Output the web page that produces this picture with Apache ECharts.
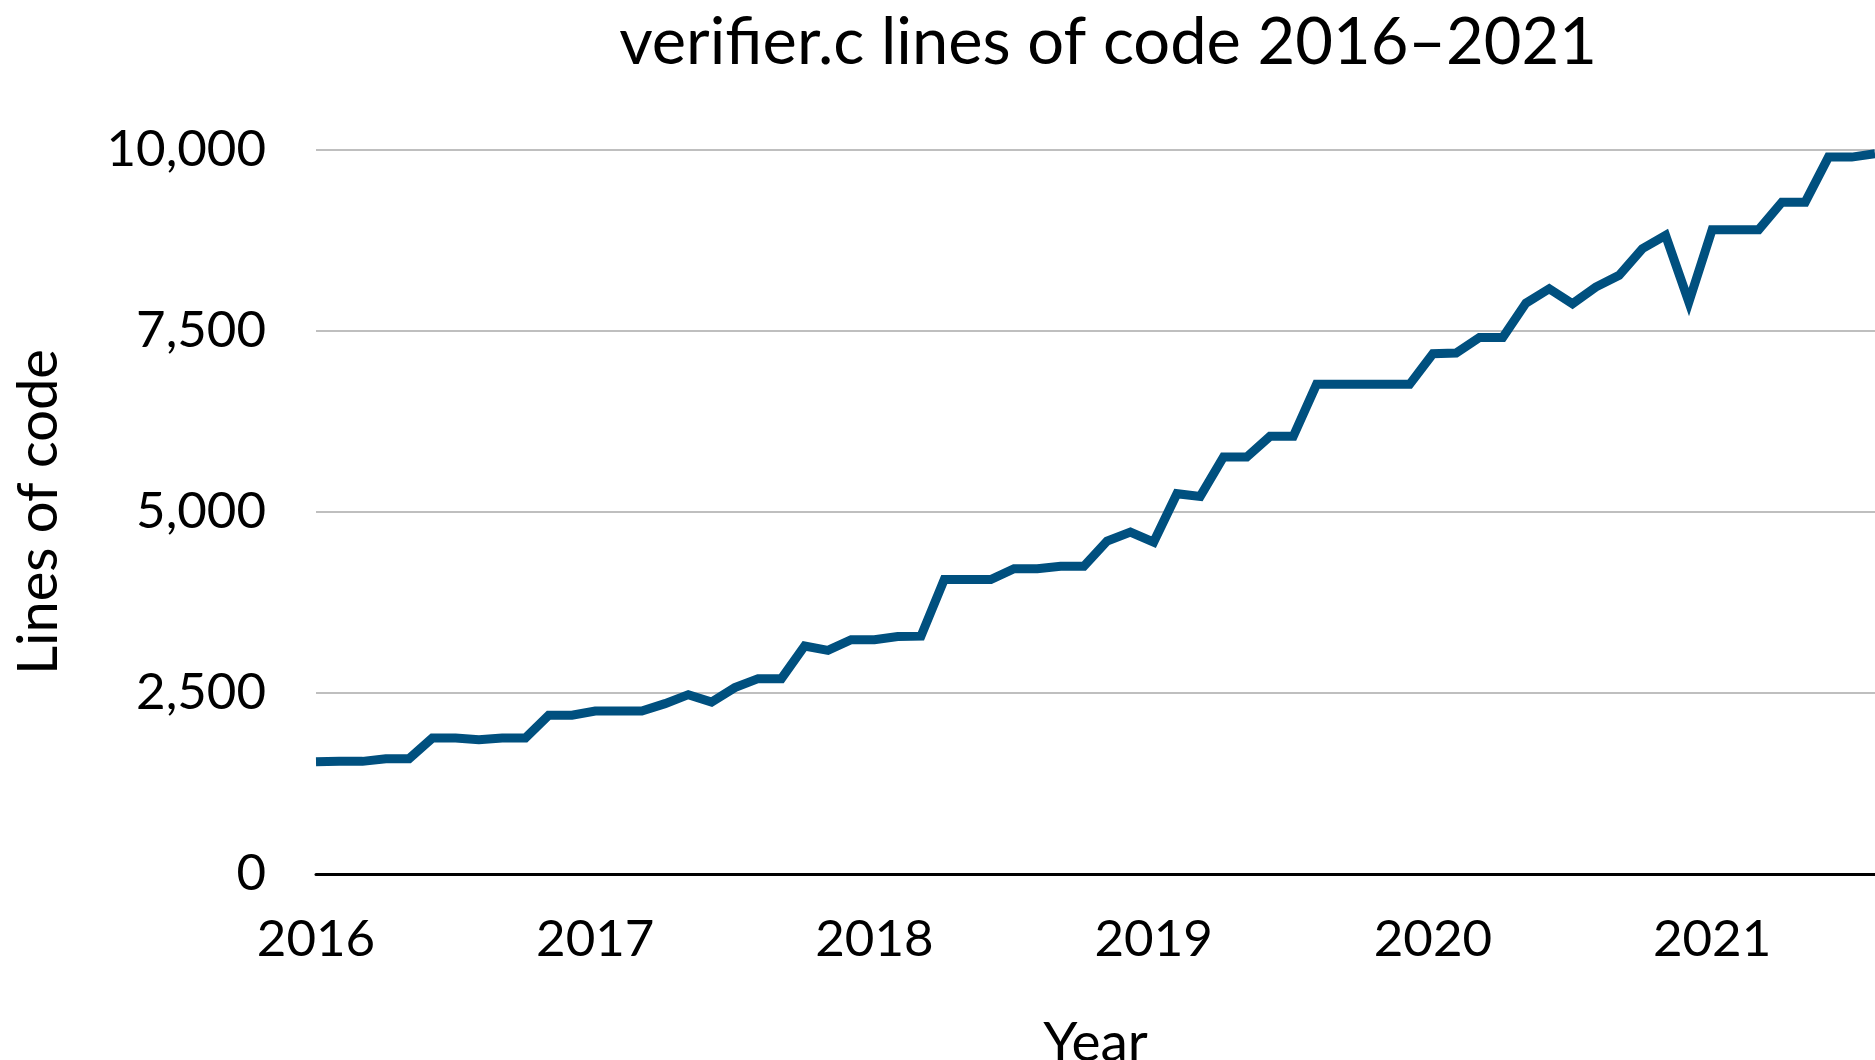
<!DOCTYPE html>
<html>
<head>
<meta charset="utf-8">
<script src="https://cdn.jsdelivr.net/npm/echarts@6/dist/echarts.min.js"></script>
<style>
html,body{margin:0;padding:0;background:#fff;}
#chart{width:1875px;height:1060px;}
</style>
</head>
<body>
<div id="chart"></div>
<script>
// Monthly samples, January 2016 to August 2021
const startYear = 2016;
const monthCount = 68;
const months = [];
for (let i = 0; i < monthCount; i++) {
  const y = startYear + Math.floor(i / 12);
  const m = (i % 12) + 1;
  months.push(y + '-' + (m < 10 ? '0' + m : m));
}
// Lines of code in verifier.c
const linesOfCode = [
  1550, 1556, 1556, 1593, 1593, 1878, 1878, 1856, 1878, 1878, 2192, 2192,
  2251, 2251, 2251, 2353, 2477, 2376, 2574, 2698, 2698, 3149, 3089, 3237,
  3237, 3280, 3285, 4066, 4066, 4066, 4217, 4217, 4249, 4249, 4599, 4723,
  4585, 5253, 5216, 5759, 5759, 6045, 6045, 6763, 6763, 6763, 6763, 6763,
  7187, 7195, 7410, 7410, 7886, 8084, 7877, 8107, 8268, 8637, 8820, 7900,
  8899, 8899, 8899, 9280, 9280, 9902, 9902, 9949
];
const yTicks = [0, 2500, 5000, 7500, 10000];
const titleText = 'verifier.c lines of code 2016\u20132021';
const xName = 'Year';
const yName = 'Lines of code';

const FONT = 'Lato';
const chart = echarts.init(document.getElementById('chart'), null, {renderer: 'canvas'});
chart.setOption({
  animation: false,
  backgroundColor: '#ffffff',
  title: {
    text: titleText,
    left: 1103,
    top: 6,
    textAlign: 'center',
    textStyle: {fontFamily: FONT, fontSize: 65, fontWeight: 'normal', color: '#000'}
  },
  grid: {left: 316, right: 0, top: 150, bottom: 186, containLabel: false, outerBoundsMode: 'none'},
  xAxis: {
    type: 'category',
    data: months,
    boundaryGap: false,
    name: xName,
    nameLocation: 'middle',
    nameGap: 142,
    nameTextStyle: {fontFamily: FONT, fontSize: 55, color: '#000'},
    axisLine: {show: true, lineStyle: {color: '#000', width: 3}},
    axisTick: {show: false},
    splitLine: {show: false},
    axisLabel: {
      interval: function (index) { return index % 12 === 0; },
      formatter: function (v) { return v.slice(0, 4); },
      fontFamily: FONT, fontSize: 51, color: '#000', margin: 40
    }
  },
  yAxis: {
    type: 'value',
    min: yTicks[0],
    max: yTicks[yTicks.length - 1],
    interval: 2500,
    name: yName,
    nameLocation: 'middle',
    nameRotate: 90,
    nameGap: 249,
    nameTextStyle: {fontFamily: FONT, fontSize: 56, color: '#000'},
    axisLine: {show: false},
    axisTick: {show: false},
    splitLine: {show: true, lineStyle: {color: '#bfbfbf', width: 2}},
    axisLabel: {
      formatter: function (v) { return v.toLocaleString('en-US'); },
      fontFamily: FONT, fontSize: 51, color: '#000', margin: 50
    }
  },
  series: [{
    type: 'line',
    data: linesOfCode,
    showSymbol: false,
    symbol: 'none',
    lineStyle: {color: '#00507f', width: 9, join: 'miter', miterLimit: 10},
    z: 3
  }]
});
</script>
</body>
</html>
